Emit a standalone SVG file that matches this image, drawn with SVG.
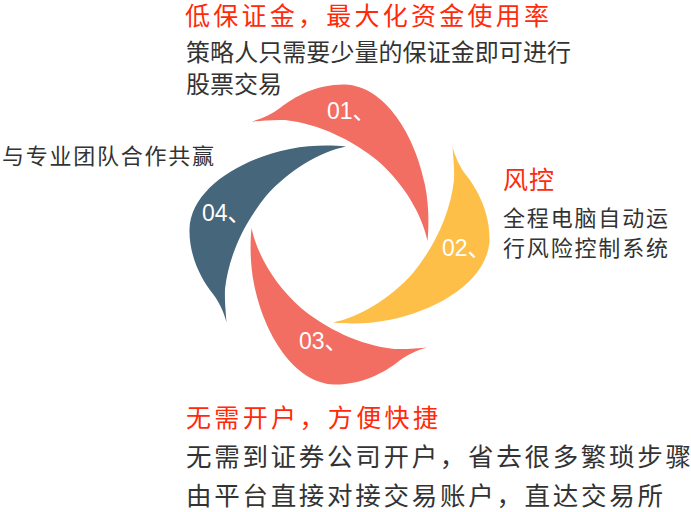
<svg xmlns="http://www.w3.org/2000/svg" width="691" height="512" viewBox="0 0 691 512">
  <style>
    .num { font-family: "Liberation Sans", "Noto Sans CJK SC", sans-serif; font-size: 23px; fill: #ffffff; }
    .title { font-family: "Noto Sans CJK SC", sans-serif; fill: #ff2a0a; }
    .body { font-family: "Noto Sans CJK SC", sans-serif; fill: #333333; }
  </style>
  <defs>
    <path id="petal" d="M251.5,121.5 C262,119 272,114 280,108 C295,96 318,84 345,84.5 C385,86 415,135 425,185 C429,205 429,225 427.5,241 C422,215 405,185 378,161 C352,140 320,124 285,120 C272,119.5 260,121 251.5,121.5 Z"/>
  </defs>
  <rect width="691" height="512" fill="#ffffff"/>

  <g id="petal-01">
    <use href="#petal" fill="#f26e62"/>
    <text class="num" x="327" y="119">01、</text>
  </g>
  <g id="petal-02">
    <use href="#petal" fill="#fdbf47" transform="rotate(90 339.5 234.5)"/>
    <text class="num" x="442" y="256">02、</text>
  </g>
  <g id="petal-03">
    <use href="#petal" fill="#f26e62" transform="rotate(180 339.5 234.5)"/>
    <text class="num" x="299" y="349">03、</text>
  </g>
  <g id="petal-04">
    <use href="#petal" fill="#46667c" transform="rotate(270 339.5 234.5)"/>
    <text class="num" x="202" y="221">04、</text>
  </g>

  <g id="text-01">
    <text class="title" x="185" y="25" font-size="25" textLength="364" lengthAdjust="spacing">低保证金，最大化资金使用率</text>
    <text class="body" x="186" y="61" font-size="24" textLength="385" lengthAdjust="spacing">策略人只需要少量的保证金即可进行</text>
    <text class="body" x="186" y="93" font-size="24">股票交易</text>
  </g>
  <g id="text-02">
    <text class="title" x="503" y="189" font-size="25" letter-spacing="1">风控</text>
    <text class="body" x="503" y="226" font-size="22" textLength="165" lengthAdjust="spacing">全程电脑自动运</text>
    <text class="body" x="503" y="256" font-size="22" textLength="165" lengthAdjust="spacing">行风险控制系统</text>
  </g>
  <g id="text-03">
    <text class="title" x="186" y="427" font-size="25" textLength="252" lengthAdjust="spacing">无需开户，方便快捷</text>
    <text class="body" x="186" y="466" font-size="25.5" textLength="505" lengthAdjust="spacing">无需到证券公司开户，省去很多繁琐步骤</text>
    <text class="body" x="186" y="505" font-size="25.5" textLength="477" lengthAdjust="spacing">由平台直接对接交易账户，直达交易所</text>
  </g>
  <g id="text-04">
    <text class="body" x="2" y="164" font-size="22" textLength="212" lengthAdjust="spacing">与专业团队合作共赢</text>
  </g>
</svg>
